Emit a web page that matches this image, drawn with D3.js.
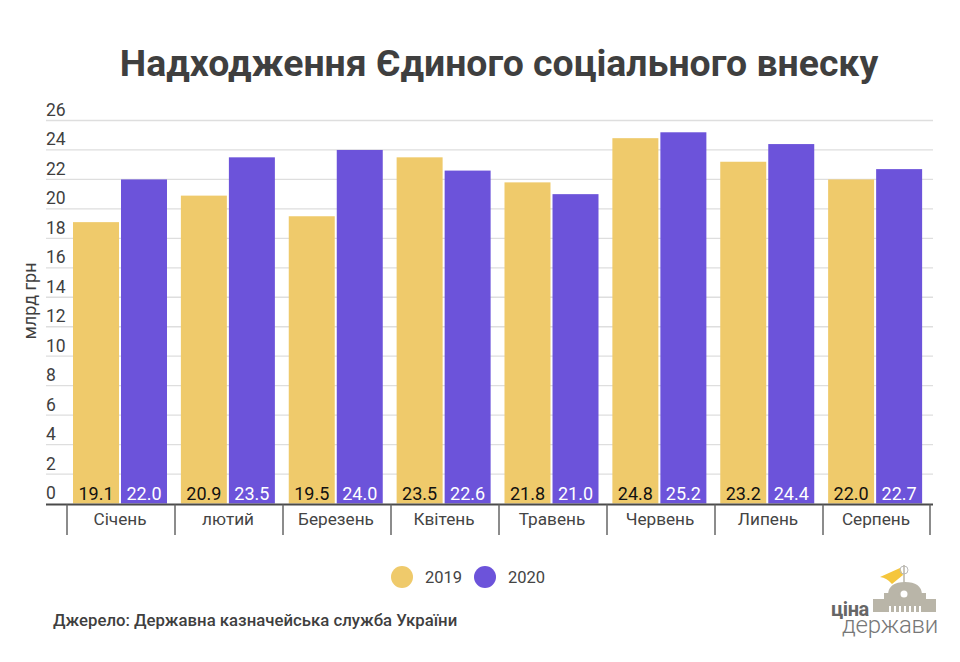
<!DOCTYPE html>
<html><head><meta charset="utf-8">
<script src="https://cdn.jsdelivr.net/npm/d3@7"></script>
<style>html,body{margin:0;padding:0;background:#fff}svg{display:block}text{font-family:Roboto,sans-serif}</style>
</head><body><svg id="c" width="960" height="662"></svg>
<script>
const months=["Січень","лютий","Березень","Квітень","Травень","Червень","Липень","Серпень"];
const years=["2019","2020"];
const v2019=[19.1,20.9,19.5,23.5,21.8,24.8,23.2,22.0];
const v2020=[22.0,23.5,24.0,22.6,21.0,25.2,24.4,22.7];
const yTicks=d3.range(0,27,2);
const colors=["#efca6b","#6c53da"];
const labelColors=["#111111","#ffffff"];
const title="Надходження Єдиного соціального внеску";
const source="Джерело: Державна казначейська служба України";
const yTitle="млрд грн";

const svg=d3.select("#c");
const y=d3.scaleLinear().domain([0,26]).range([503.5,120.5]);
const x=d3.scaleBand().domain(months).range([66,929]);
const xTick=d3.scaleBand().domain(months).range([67,931]);
const inner=d3.scaleBand().domain(years).range([7,101]).paddingInner(0.042).paddingOuter(0);

svg.append("text").attr("x",499).attr("y",76).attr("text-anchor","middle")
  .attr("font-size",37.4).attr("font-weight",700).attr("fill","#3f3f3f").text(title);

const grid=svg.append("g");
yTicks.filter(d=>d>0).forEach(d=>{
  grid.append("line").attr("x1",46).attr("x2",933).attr("y1",y(d)).attr("y2",y(d))
    .attr("stroke","#dedede").attr("stroke-width",1.3);
});
yTicks.forEach(d=>{
  svg.append("text").attr("x",46).attr("y",y(d)-4.5).attr("font-size",17.5).attr("fill","#3f3f3f").text(d);
});
svg.append("text").attr("transform",`translate(36,301) rotate(-90)`).attr("text-anchor","middle")
  .attr("font-size",18).attr("fill","#3f3f3f").text(yTitle);

[v2019,v2020].forEach((vals,s)=>{
  const g=svg.append("g");
  g.selectAll("rect").data(vals).join("rect")
    .attr("x",(d,i)=>x(months[i])+inner(years[s]))
    .attr("width",inner.bandwidth())
    .attr("y",d=>y(d)).attr("height",d=>y(0)-y(d)).attr("fill",colors[s]);
  g.selectAll("text").data(vals).join("text")
    .attr("x",(d,i)=>x(months[i])+inner(years[s])+inner.bandwidth()/2)
    .attr("y",y(0)-4).attr("text-anchor","middle").attr("font-size",18).attr("font-weight",400)
    .attr("fill",labelColors[s]).text(d=>d.toFixed(1));
});

svg.append("line").attr("x1",46).attr("x2",933).attr("y1",y(0)+1).attr("y2",y(0)+1)
  .attr("stroke","#4a4a4a").attr("stroke-width",2);
const bounds=months.map(m=>xTick(m)).concat([xTick.range()[1]-1]);
bounds.forEach(b=>{
  svg.append("line").attr("x1",b).attr("x2",b).attr("y1",y(0)+1).attr("y2",535)
    .attr("stroke","#666").attr("stroke-width",1.5);
});
months.forEach(m=>{
  svg.append("text").attr("x",xTick(m)+xTick.bandwidth()/2-1).attr("y",525).attr("text-anchor","middle")
    .attr("font-size",17.2).attr("fill","#444").text(m);
});

const legendX=[402,485];
years.forEach((yr,i)=>{
  svg.append("circle").attr("cx",legendX[i]).attr("cy",577).attr("r",11).attr("fill",colors[i]);
  svg.append("text").attr("x",legendX[i]+23).attr("y",583).attr("font-size",16.5).attr("fill","#444").text(yr);
});

svg.append("text").attr("x",53).attr("y",626).attr("font-size",16.75).attr("font-weight",500).attr("fill","#3f3f3f").text(source);

// logo
const L=svg.append("g");
const gray="#b9b5a8";
L.append("path").attr("d","M880 577 L900 568 L903 575 L892 584 Q887 578 880 577Z").attr("fill","#f5c63c");
L.append("circle").attr("cx",904).attr("cy",570).attr("r",4).attr("fill","none").attr("stroke","#bbb").attr("stroke-width",1);
L.append("line").attr("x1",904).attr("x2",904).attr("y1",565).attr("y2",584).attr("stroke",gray).attr("stroke-width",1.5);
L.append("path").attr("d","M888 594 Q889 582 905 582 Q921 582 922 594Z").attr("fill",gray);
L.append("rect").attr("x",884).attr("y",593).attr("width",42).attr("height",6).attr("fill",gray);
L.append("rect").attr("x",873).attr("y",599).attr("width",63).attr("height",13).attr("fill",gray);
d3.range(7).forEach(i=>L.append("rect").attr("x",889+i*5).attr("y",606).attr("width",2).attr("height",6).attr("fill","#fff"));
L.append("circle").attr("cx",904).attr("cy",594).attr("r",4.5).attr("fill","#fff").attr("stroke",gray).attr("stroke-width",2);
L.append("text").attr("x",831).attr("y",616).attr("font-size",20).attr("font-weight",700).attr("fill","#666").attr("letter-spacing",-0.4).text("ціна");
L.append("text").attr("x",842).attr("y",633).attr("font-size",24).attr("font-weight",300).attr("fill","#777").attr("letter-spacing",-0.2).text("держави");
</script></body></html>
